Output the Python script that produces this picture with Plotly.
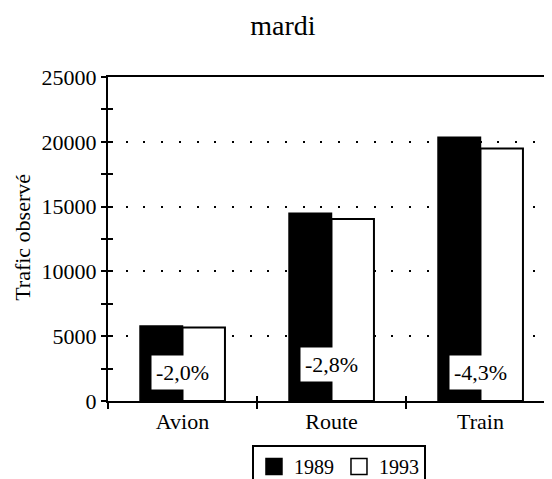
import plotly.graph_objects as go

categories = ["Avion", "Route", "Train"]
values_1989 = [5790, 14480, 20360]
values_1993 = [5675, 14040, 19480]
series_names = ["1989", "1993"]
change_labels = ["-2,0%", "-2,8%", "-4,3%"]
label_y = [2214, 2794, 2214]
y_ticks = [0, 5000, 10000, 15000, 20000, 25000]

FONT = "Liberation Serif, Times New Roman, serif"

fig = go.Figure()
fig.add_trace(go.Bar(x=categories, y=values_1989, name=series_names[0],
                     marker=dict(color="black", line=dict(color="black", width=1.5)),
                     showlegend=False))
fig.add_trace(go.Bar(x=categories, y=values_1993, name=series_names[1],
                     marker=dict(color="white", line=dict(color="black", width=2)),
                     showlegend=False))
# legend entries
fig.add_trace(go.Scatter(x=[None], y=[None], mode="markers", name=series_names[0],
                         marker=dict(symbol="square", size=16, color="black",
                                     line=dict(color="black", width=1.5))))
fig.add_trace(go.Scatter(x=[None], y=[None], mode="markers", name=series_names[1],
                         marker=dict(symbol="square", size=16, color="white",
                                     line=dict(color="black", width=1.5))))

for c, t, yy in zip(categories, change_labels, label_y):
    fig.add_annotation(x=c, y=yy, text=t, showarrow=False, bgcolor="white",
                       borderpad=4, font=dict(family=FONT, size=22, color="black"))

fig.add_annotation(text="Trafic observé", textangle=-90, xref="paper", yref="paper",
                   x=-0.1926, y=0.505, xanchor="center", yanchor="middle", showarrow=False,
                   font=dict(family=FONT, size=22, color="black"))

xr = [-0.5, 2.48]
yr = [0, 25000]
fig.update_layout(
    width=544, height=471,
    margin=dict(l=100, r=0, t=69, b=78, autoexpand=False),
    paper_bgcolor="white", plot_bgcolor="white",
    barmode="group", bargap=0.43, bargroupgap=0,
    font=dict(family=FONT, size=22, color="black"),
    title=dict(text="mardi", x=0.5055, xref="container", xanchor="center",
               y=0.964, yref="container", yanchor="middle",
               font=dict(family=FONT, size=28, color="black")),
    showlegend=True,
    legend=dict(orientation="h", x=0.4485, xref="container", xanchor="left",
                y=0.0722, yref="container", yanchor="top",
                bordercolor="black", borderwidth=2, bgcolor="white",
                font=dict(family=FONT, size=20, color="black"),
                itemwidth=30, tracegroupgap=0),
    xaxis=dict(type="category", categoryorder="array", categoryarray=categories,
               range=xr, showline=True, linecolor="black", linewidth=2,
               tickson="boundaries", ticks="outside", ticklen=6, tickwidth=2, tickcolor="black",
               showgrid=False, zeroline=False, automargin=False,
               tickfont=dict(family=FONT, size=22, color="black")),
    xaxis2=dict(type="category", categoryorder="array", categoryarray=categories,
                overlaying="x", matches="x", range=xr, side="bottom", anchor="y",
                showline=False, tickson="boundaries", ticks="inside", ticklen=5,
                tickwidth=2, tickcolor="black", showticklabels=False, showgrid=False),
    xaxis3=dict(overlaying="x", side="top", anchor="y", showline=True, linecolor="black",
                linewidth=2, ticks="", showticklabels=False, showgrid=False, zeroline=False),
    yaxis=dict(range=yr, tickvals=y_ticks, tickformat="d", showline=True, linecolor="black",
               linewidth=2, automargin=False,
               ticks="outside", ticklen=5, tickwidth=2, tickcolor="black",
               minor=dict(dtick=2500, ticks="outside", ticklen=5, tickwidth=2,
                          tickcolor="black", showgrid=False),
               showgrid=True, gridcolor="black", gridwidth=2, griddash="2px,15.7px",
               zeroline=False, tickfont=dict(family=FONT, size=22, color="black")),
    yaxis2=dict(range=yr, overlaying="y", matches="y", side="left", anchor="x",
                tickvals=y_ticks, ticks="inside", ticklen=5, tickwidth=2, tickcolor="black",
                minor=dict(dtick=2500, ticks="inside", ticklen=5, tickwidth=2,
                           tickcolor="black", showgrid=False),
                showticklabels=False, showgrid=False, zeroline=False, showline=False),
)
# dummy traces to activate overlay axes
fig.add_trace(go.Scatter(x=[None], y=[None], xaxis="x2", yaxis="y2", showlegend=False,
                         hoverinfo="skip"))
fig.add_trace(go.Scatter(x=[None], y=[None], xaxis="x3", yaxis="y", showlegend=False,
                         hoverinfo="skip"))

fig.write_html("out.html")
